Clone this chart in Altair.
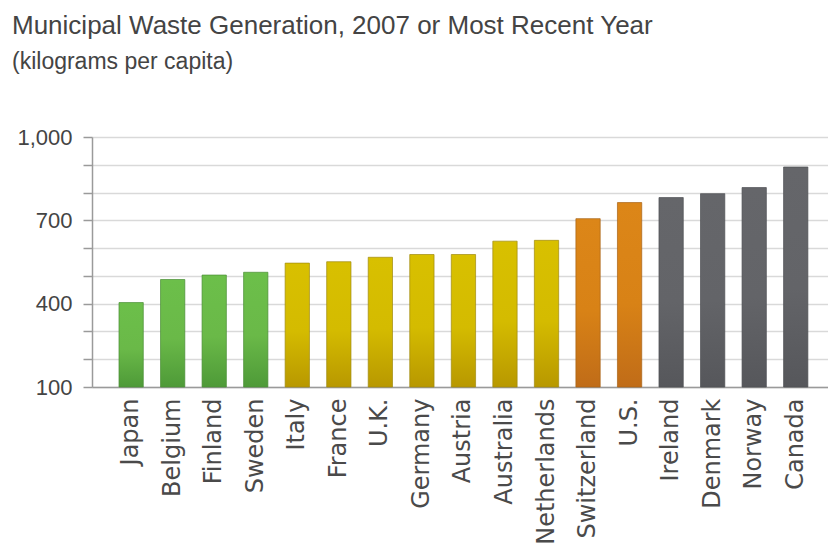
import altair as alt
import pandas as pd

countries = ["Japan", "Belgium", "Finland", "Sweden", "Italy", "France", "U.K.",
             "Germany", "Austria", "Australia", "Netherlands", "Switzerland",
             "U.S.", "Ireland", "Denmark", "Norway", "Canada"]
waste = [404, 487, 503, 513, 546, 551, 567, 577, 577, 625, 628, 706, 764,
         782, 796, 818, 892]
groups = ["green"] * 4 + ["yellow"] * 7 + ["orange"] * 2 + ["gray"] * 4
y_ticks = list(range(100, 1001, 100))
y_base = 100

palette = {
    "green": ("#6cbf4a", "#6ab948", "#4e9a38", "#4a8f36"),
    "yellow": ("#d8c000", "#d4bb00", "#b89800", "#9f8a10"),
    "orange": ("#dc8618", "#d88216", "#c06c18", "#a86216"),
    "gray": ("#65666a", "#636468", "#56575b", "#4f5054"),
}

df = pd.DataFrame({"country": countries, "waste": waste, "group": groups})

x_enc = alt.X(
    "country:N",
    sort=countries,
    scale=alt.Scale(domain=countries, paddingInner=0.415, paddingOuter=0.567, align=0.573),
    axis=alt.Axis(
        title=None, labelAngle=-90, ticks=False, labelPadding=11,
        labelFont="DejaVu Sans", labelFontSize=24, labelColor="#4a4a4a",
        domainColor="#9a9a9a", domainWidth=1.5, labelLimit=400, grid=False,
    ),
)
y_enc = alt.Y(
    "waste:Q",
    scale=alt.Scale(domain=[100, 1000], zero=False, nice=False),
    axis=alt.Axis(
        title=None, values=y_ticks,
        labelExpr="datum.value % 300 == 100 ? format(datum.value, ',') : ''",
        labelFont="Liberation Sans", labelFontSize=22, labelColor="#444444",
        labelPadding=11, tickSize=9, tickColor="#9a9a9a", tickWidth=1.5,
        domainColor="#9a9a9a", domainWidth=1.5,
        gridColor="#d9d9d9", gridWidth=1.5,
    ),
)

layers = []
for g, (top, mid, bot, edge) in palette.items():
    grad = alt.Gradient(
        gradient="linear",
        stops=[
            alt.GradientStop(color=top, offset=0),
            alt.GradientStop(color=mid, offset=0.55),
            alt.GradientStop(color=bot, offset=1),
        ],
        x1=0, x2=0, y1=0, y2=1,
    )
    layers.append(
        alt.Chart(df)
        .transform_filter(alt.datum.group == g)
        .mark_bar(color=grad, stroke=edge, strokeWidth=1, strokeOpacity=0.7)
        .encode(x=x_enc, y=y_enc, y2=alt.datum(y_base))
    )

chart = (
    alt.layer(*layers)
    .properties(
        width=736,
        height=250,
        padding={"left": 92, "top": 137, "right": 0, "bottom": 163},
        autosize=alt.AutoSizeParams(type="none"),
        title=alt.Title(
            text="Municipal Waste Generation, 2007 or Most Recent Year",
            subtitle="(kilograms per capita)",
            anchor="start", frame="group", dx=-80, offset=52,
            font="Liberation Sans", fontSize=26, fontWeight="normal", color="#444444",
            subtitleFont="Liberation Sans", subtitleFontSize=23, subtitleColor="#444444",
            subtitlePadding=12,
        ),
    )
    .configure_view(stroke=None)
    .configure(background="white")
)

chart.save("out.html", embed_options={"renderer": "svg", "actions": False})
